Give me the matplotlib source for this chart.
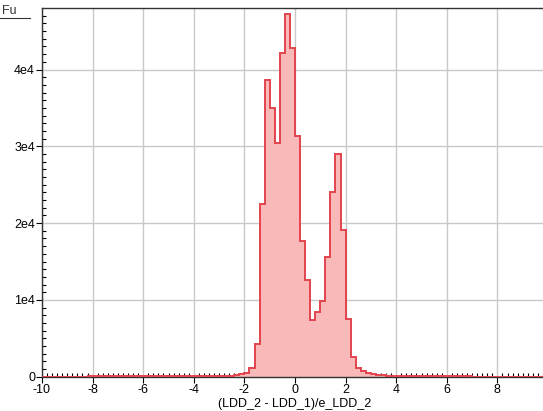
import numpy as np
import matplotlib
matplotlib.use("Agg")
import matplotlib.pyplot as plt
from matplotlib.lines import Line2D
from matplotlib.ticker import MultipleLocator, FuncFormatter

plt.rcParams["font.family"] = ["Liberation Sans", "DejaVu Sans"]

# histogram of (LDD_2 - LDD_1)/e_LDD_2, bins of 0.2 from -10 to 10
bin_edges = np.round(np.arange(-10.0, 10.0001, 0.2), 2)
counts = [
    # -10 .. -6
    20, 22, 20, 24, 22, 25, 24, 26, 25, 28, 27, 28, 30, 29, 30, 32, 31, 33, 34, 35,
    # -6 .. -2.6
    35, 36, 38, 38, 40, 42, 44, 45, 48, 50, 52, 55, 58, 62, 68, 75, 85,
    # -2.6 .. -1.4
    120, 180, 300, 520, 1090, 4200,
    # -1.4 .. 0
    22500, 38630, 34950, 30470, 42100, 47230, 42760,
    # 0 .. 2.0
    31380, 17710, 12590, 7380, 8460, 9900, 15550, 24090, 28960, 19100,
    # 2.0 .. 4.0
    7470, 2600, 1090, 780, 520, 390, 260, 170, 110, 80,
    # 4.0 .. 6.0
    65, 55, 50, 45, 42, 40, 38, 36, 35, 34,
    # 6.0 .. 8.0
    32, 30, 30, 28, 27, 26, 25, 25, 24, 23,
    # 8.0 .. 10.0
    22, 22, 21, 20, 10, 8, 20, 19, 18, 18,
]

FILL = "#f9b9b9"
EDGE = "#e2444e"

fig = plt.figure(figsize=(5.43, 4.11), dpi=100)
ax = fig.add_axes([42 / 543, (411 - 376.7) / 411, (548 - 42) / 543, (376.7 - 8.3) / 411])

ax.stairs(counts, bin_edges, fill=True, color=FILL, zorder=2)
ax.stairs(counts, bin_edges, color=EDGE, linewidth=1.4, zorder=3)

ax.set_xlim(-10, 10)
ax.set_ylim(0, 47970)
ax.xaxis.set_major_locator(MultipleLocator(2))
ax.xaxis.set_minor_locator(MultipleLocator(0.2))
ax.yaxis.set_major_locator(MultipleLocator(10000))
ax.yaxis.set_minor_locator(MultipleLocator(1000))
ax.yaxis.set_major_formatter(FuncFormatter(lambda v, p: "0" if v == 0 else f"{int(v / 1e4)}e4"))
ax.xaxis.set_major_formatter(FuncFormatter(lambda v, p: f"{v:.0f}"))

ax.tick_params(which="major", direction="out", length=4, width=0.8, labelsize=9, pad=1)
ax.tick_params(which="minor", direction="in", length=3, width=0.8)
ax.grid(True, which="major", color="#c8c8c8", linewidth=1.0, zorder=0)
ax.set_axisbelow(True)

for side in ("top", "left", "bottom"):
    ax.spines[side].set_color("#333333")
    ax.spines[side].set_linewidth(1.0)
ax.spines["right"].set_visible(False)

ax.set_xlabel("(LDD_2 - LDD_1)/e_LDD_2", fontsize=9, labelpad=2)

fig.text(0.004, 0.958, "Fu", fontsize=9, color="#333333", va="bottom")
fig.add_artist(Line2D([0.0, 0.055], [0.956, 0.956], transform=fig.transFigure,
                      color="#333333", linewidth=0.8))

fig.savefig("out.png", dpi=100)
